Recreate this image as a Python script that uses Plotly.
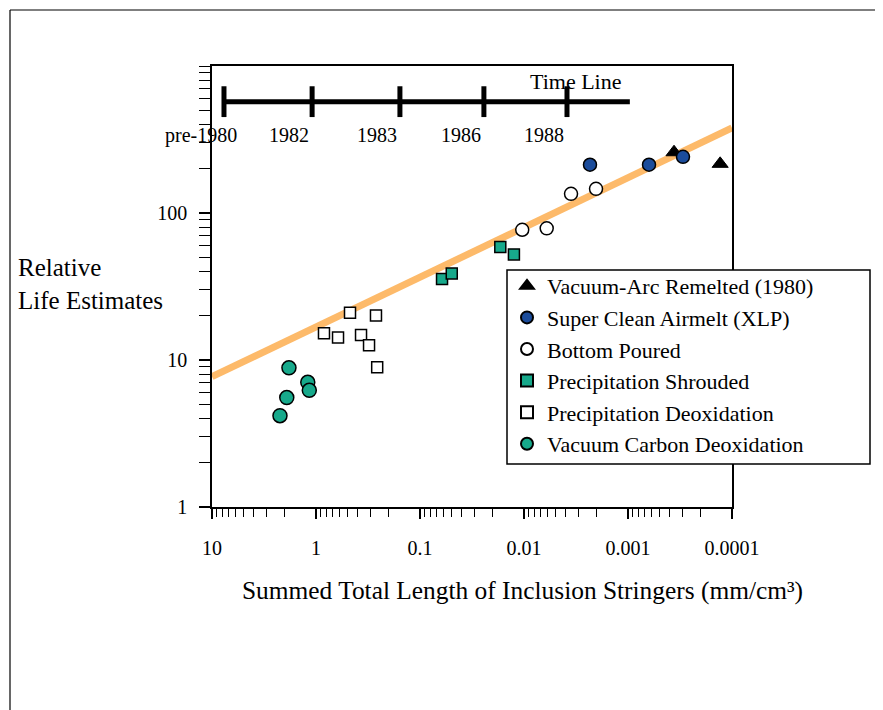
import math
import plotly.graph_objects as go

# ---------------- data ----------------
var_x = [3.61e-4, 1.30e-4]
var_y = [259, 216]
sca_x = [2.32e-3, 6.28e-4, 2.96e-4]
sca_y = [213, 213, 241]
bp_x = [1.04e-2, 6.05e-3, 3.53e-3, 2.03e-3]
bp_y = [76.9, 78.6, 135, 146]
ps_x = [6.14e-2, 4.95e-2, 1.69e-2, 1.25e-2]
ps_y = [35.6, 38.8, 58.6, 52.3]
pd_x = [0.471, 0.265, 0.838, 0.614, 0.369, 0.309, 0.258]
pd_y = [21.0, 20.1, 15.2, 14.2, 14.8, 12.6, 8.93]
vcd_x = [1.82, 1.91, 2.22, 1.20, 1.16]
vcd_y = [8.85, 5.55, 4.18, 7.05, 6.22]

trend_x = [10, 1e-4]
trend_y = [7.7, 379]

timeline_years = ["pre-1980", "1982", "1983", "1986", "1988"]
timeline_x = [7.67, 1.09, 0.156, 0.0243, 0.00386]
timeline_span = [8.0, 9.6e-4]
timeline_y = 572

x_tickvals = [10, 1, 0.1, 0.01, 0.001, 0.0001]
x_ticktext = ["10", "1", "0.1", "0.01", "0.001", "0.0001"]
y_tickvals = [1, 10, 100]
y_ticktext = ["1", "10", "100"]

# ---------------- styling ----------------
FONT = "Liberation Serif, Times New Roman, serif"
TEAL = "#17A98B"
BLUE = "#1B4C9B"
ORANGE = "#FDBA6A"

OFF = 8                      # page body margin
PAGE_W, PAGE_H = 883, 710
W, H = PAGE_W - OFF, PAGE_H - OFF
L, R, T, B = 212, 732, 66, 507   # plot area in page px


def px_x(p):
    return (p - L) / (R - L)


def px_y(p):
    return (B - p) / (B - T)


fig = go.Figure()

fig.add_trace(go.Scatter(x=trend_x, y=trend_y, mode="lines",
                         line=dict(color=ORANGE, width=7), showlegend=False,
                         hoverinfo="skip"))

# time line
fig.add_trace(go.Scatter(x=timeline_span, y=[timeline_y] * len(timeline_span),
                         mode="lines", line=dict(color="black", width=5),
                         showlegend=False, hoverinfo="skip"))
fig.add_trace(go.Scatter(x=timeline_x, y=[timeline_y] * len(timeline_x),
                         mode="markers",
                         marker=dict(symbol="line-ns", size=22,
                                     line=dict(color="black", width=5)),
                         showlegend=False, hoverinfo="skip"))

mline = dict(color="black", width=1.5)
fig.add_trace(go.Scatter(x=var_x, y=var_y, mode="markers",
                         name="Vacuum-Arc Remelted (1980)",
                         marker=dict(symbol="triangle-up", size=14, color="black",
                                     line=dict(color="black", width=1))))
fig.add_trace(go.Scatter(x=sca_x, y=sca_y, mode="markers",
                         name="Super Clean Airmelt (XLP)",
                         marker=dict(symbol="circle", size=13, color=BLUE, line=mline)))
fig.add_trace(go.Scatter(x=bp_x, y=bp_y, mode="markers",
                         name="Bottom Poured",
                         marker=dict(symbol="circle", size=13, color="white", line=mline)))
fig.add_trace(go.Scatter(x=ps_x, y=ps_y, mode="markers",
                         name="Precipitation Shrouded",
                         marker=dict(symbol="square", size=11, color=TEAL, line=mline)))
fig.add_trace(go.Scatter(x=pd_x, y=pd_y, mode="markers",
                         name="Precipitation Deoxidation",
                         marker=dict(symbol="square", size=11, color="white", line=mline)))
fig.add_trace(go.Scatter(x=vcd_x, y=vcd_y, mode="markers",
                         name="Vacuum Carbon Deoxidation",
                         marker=dict(symbol="circle", size=14, color=TEAL, line=mline)))

annotations = []
for yr, xv in zip(timeline_years, timeline_x):
    annotations.append(dict(x=math.log10(xv), y=math.log10(timeline_y),
                            xref="x", yref="y", text=yr,
                            showarrow=False, xanchor="center", yanchor="top",
                            xshift=-23, yshift=-20,
                            font=dict(family=FONT, size=20, color="black")))
annotations.append(dict(x=px_x(575), y=px_y(82), xref="paper", yref="paper",
                        text="Time Line", showarrow=False, xanchor="center",
                        yanchor="middle",
                        font=dict(family=FONT, size=22, color="black")))
annotations.append(dict(x=px_x(16), y=px_y(284), xref="paper", yref="paper",
                        text="Relative<br>Life Estimates", showarrow=False,
                        xanchor="left", yanchor="middle", align="left",
                        font=dict(family=FONT, size=25, color="black")))
annotations.append(dict(x=px_x(522), y=px_y(590), xref="paper", yref="paper",
                        text="Summed Total Length of Inclusion Stringers (mm/cm³)",
                        showarrow=False, xanchor="center", yanchor="middle",
                        font=dict(family=FONT, size=25.4, color="black")))

shapes = [
    # outer frame (top and left edges visible)
    dict(type="line", xref="paper", yref="paper", x0=px_x(10), y0=px_y(10),
         x1=px_x(PAGE_W + 20), y1=px_y(10), line=dict(color="black", width=1.2)),
    dict(type="line", xref="paper", yref="paper", x0=px_x(10), y0=px_y(10),
         x1=px_x(10), y1=px_y(PAGE_H + 20), line=dict(color="black", width=1.2)),
    # legend box
    dict(type="rect", xref="paper", yref="paper", x0=px_x(507), y0=px_y(270),
         x1=px_x(870), y1=px_y(464), fillcolor="white", layer="above",
         line=dict(color="black", width=1.5)),
]

axis_common = dict(showline=True, linecolor="black", linewidth=1.5, mirror=True,
                   ticks="outside", tickcolor="black", tickwidth=1.5,
                   showgrid=False, zeroline=False,
                   tickfont=dict(family=FONT, size=20, color="black"))

fig.update_layout(
    width=W, height=H, autosize=False,
    margin=dict(l=L - OFF, r=W - (R - OFF), t=T - OFF, b=H - (B - OFF), pad=0),
    paper_bgcolor="white", plot_bgcolor="white",
    font=dict(family=FONT, color="black"),
    xaxis=dict(type="log", range=[1, -4], tickmode="array",
               tickvals=x_tickvals, ticktext=x_ticktext, ticklen=10,
               ticklabelstandoff=12,
               minor=dict(ticks="outside", ticklen=8, tickwidth=1.3,
                          tickcolor="black", dtick="D1", showgrid=False),
               **axis_common),
    yaxis=dict(type="log", range=[0, 3], tickmode="array",
               tickvals=y_tickvals, ticktext=y_ticktext, ticklen=11,
               ticklabelstandoff=8,
               minor=dict(ticks="outside", ticklen=11, tickwidth=1.3,
                          tickcolor="black", dtick="D1", showgrid=False),
               **axis_common),
    legend=dict(x=px_x(507), y=px_y(365), xanchor="left", yanchor="middle",
                bgcolor="rgba(0,0,0,0)", borderwidth=0,
                font=dict(family=FONT, size=22, color="black"),
                itemsizing="constant", tracegroupgap=0),
    annotations=annotations,
    shapes=shapes,
    showlegend=True,
)

fig.write_html("out.html")
